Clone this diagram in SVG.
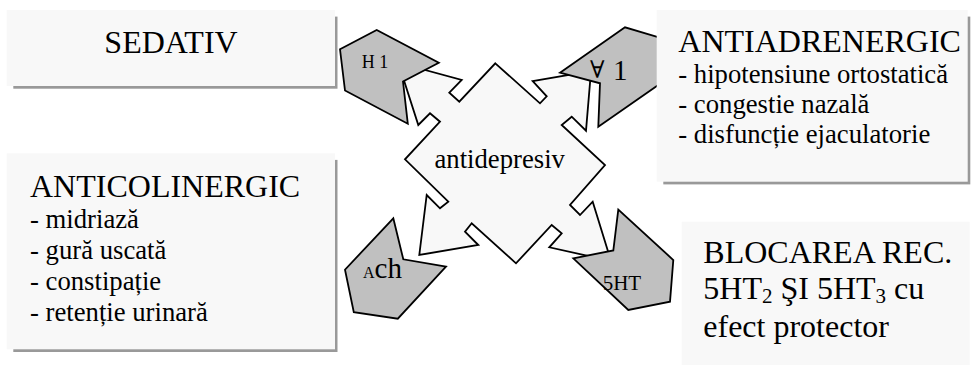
<svg xmlns="http://www.w3.org/2000/svg" width="972" height="365" viewBox="0 0 972 365">
<style>
.box{fill:#f8f8f8}
.shadow{fill:#999999}
.rec{fill:#c0c0c0;stroke:#000;stroke-width:1.8;stroke-linejoin:miter}
.core{fill:#f8f8f8;stroke:#000;stroke-width:1.8;stroke-linejoin:miter}
text{font-family:"Liberation Serif","Times New Roman",serif;fill:#000}
.title{font-size:32px}
.item{font-size:26.7px}
</style>
<rect width="972" height="365" fill="#ffffff"/>

<g id="antidepresiv">
<polygon class="core" points="495.3,63.3 540,103.3 546.7,96.3 532.7,81 591,71 586,130.7 571.7,116.7 561.7,125 605,165 570,205 580,215 592.7,201.7 611,261 549.3,247.3 561.7,233.3 551.7,225 516,263.3 471.7,223.3 465,231.7 478.3,245 419.3,255 426.7,195 440,208.3 448.3,201.7 405,159.3 440,121.7 430,113.3 418.3,125 398.3,62.7 461.7,80 449.3,92.7 459.3,101.7"/>
<text x="499.7" y="168.3" class="item" text-anchor="middle">antidepresiv</text>
</g>

<g id="rec-h1">
<polygon class="rec" points="340,49.3 376.7,30 438.8,62.7 403,81.5 407.8,123.7 345,90.5"/>
<text x="361.7" y="67.7" font-size="18">H 1</text>
</g>

<g id="rec-alpha1">
<polygon class="rec" points="560,72.7 625,27.3 664,39 664,81 598.3,126.7 600,83.3"/>
<text y="78"><tspan x="590" font-family="DejaVu Serif, serif" font-size="24">∀</tspan><tspan x="613" y="80" font-size="29">1</tspan></text>
</g>

<g id="rec-ach">
<polygon class="rec" points="393.3,218.3 403.3,259.3 446,266.7 397.8,318.7 353.8,312.2 345,269.7"/>
<text x="363" y="278"><tspan font-size="16">A</tspan><tspan font-size="29">ch</tspan></text>
</g>

<g id="rec-5ht">
<polygon class="rec" points="573.3,258.3 613.3,250.5 618.3,209.6 673.3,260 670,301.7 628.3,310"/>
<text x="602.7" y="289.5" font-size="21">5HT</text>
</g>

<g id="sedativ">
<rect class="shadow" x="13.3" y="16.6" width="324.2" height="72.1"/>
<rect class="box" x="6.7" y="10" width="328.3" height="76"/>
<text x="171" y="53.3" class="title" text-anchor="middle">SEDATIV</text>
</g>

<g id="antiadrenergic">
<rect class="shadow" x="663.3" y="16.6" width="307" height="167.8"/>
<rect class="box" x="656.7" y="10" width="311" height="171.7"/>
<text x="678.3" y="51.7" class="title">ANTIADRENERGIC</text>
<text x="678.3" y="82.6" class="item">- hipotensiune ortostatică</text>
<text x="678.3" y="112.7" class="item">- congestie nazală</text>
<text x="678.3" y="142.7" class="item">- disfuncție ejaculatorie</text>
</g>

<g id="anticolinergic">
<rect class="shadow" x="13.3" y="159.9" width="324.2" height="192.1"/>
<rect class="box" x="6.7" y="153.3" width="328.3" height="196"/>
<text x="30" y="196.7" class="title">ANTICOLINERGIC</text>
<text x="30" y="228.3" class="item">- midriază</text>
<text x="30" y="259.3" class="item">- gură uscată</text>
<text x="30" y="290" class="item">- constipație</text>
<text x="30" y="320.7" class="item">- retenție urinară</text>
</g>

<g id="blocarea">
<rect class="box" x="681.7" y="221.7" width="288" height="160"/>
<text x="703.3" y="262.7" class="title">BLOCAREA REC.</text>
<text x="703.3" y="299.3" class="title">5HT<tspan font-size="21" dy="4">2</tspan><tspan dy="-4"> ŞI 5HT</tspan><tspan font-size="21" dy="4">3</tspan><tspan dy="-4"> cu</tspan></text>
<text x="703.3" y="336.7" class="title">efect protector</text>
</g>
</svg>
